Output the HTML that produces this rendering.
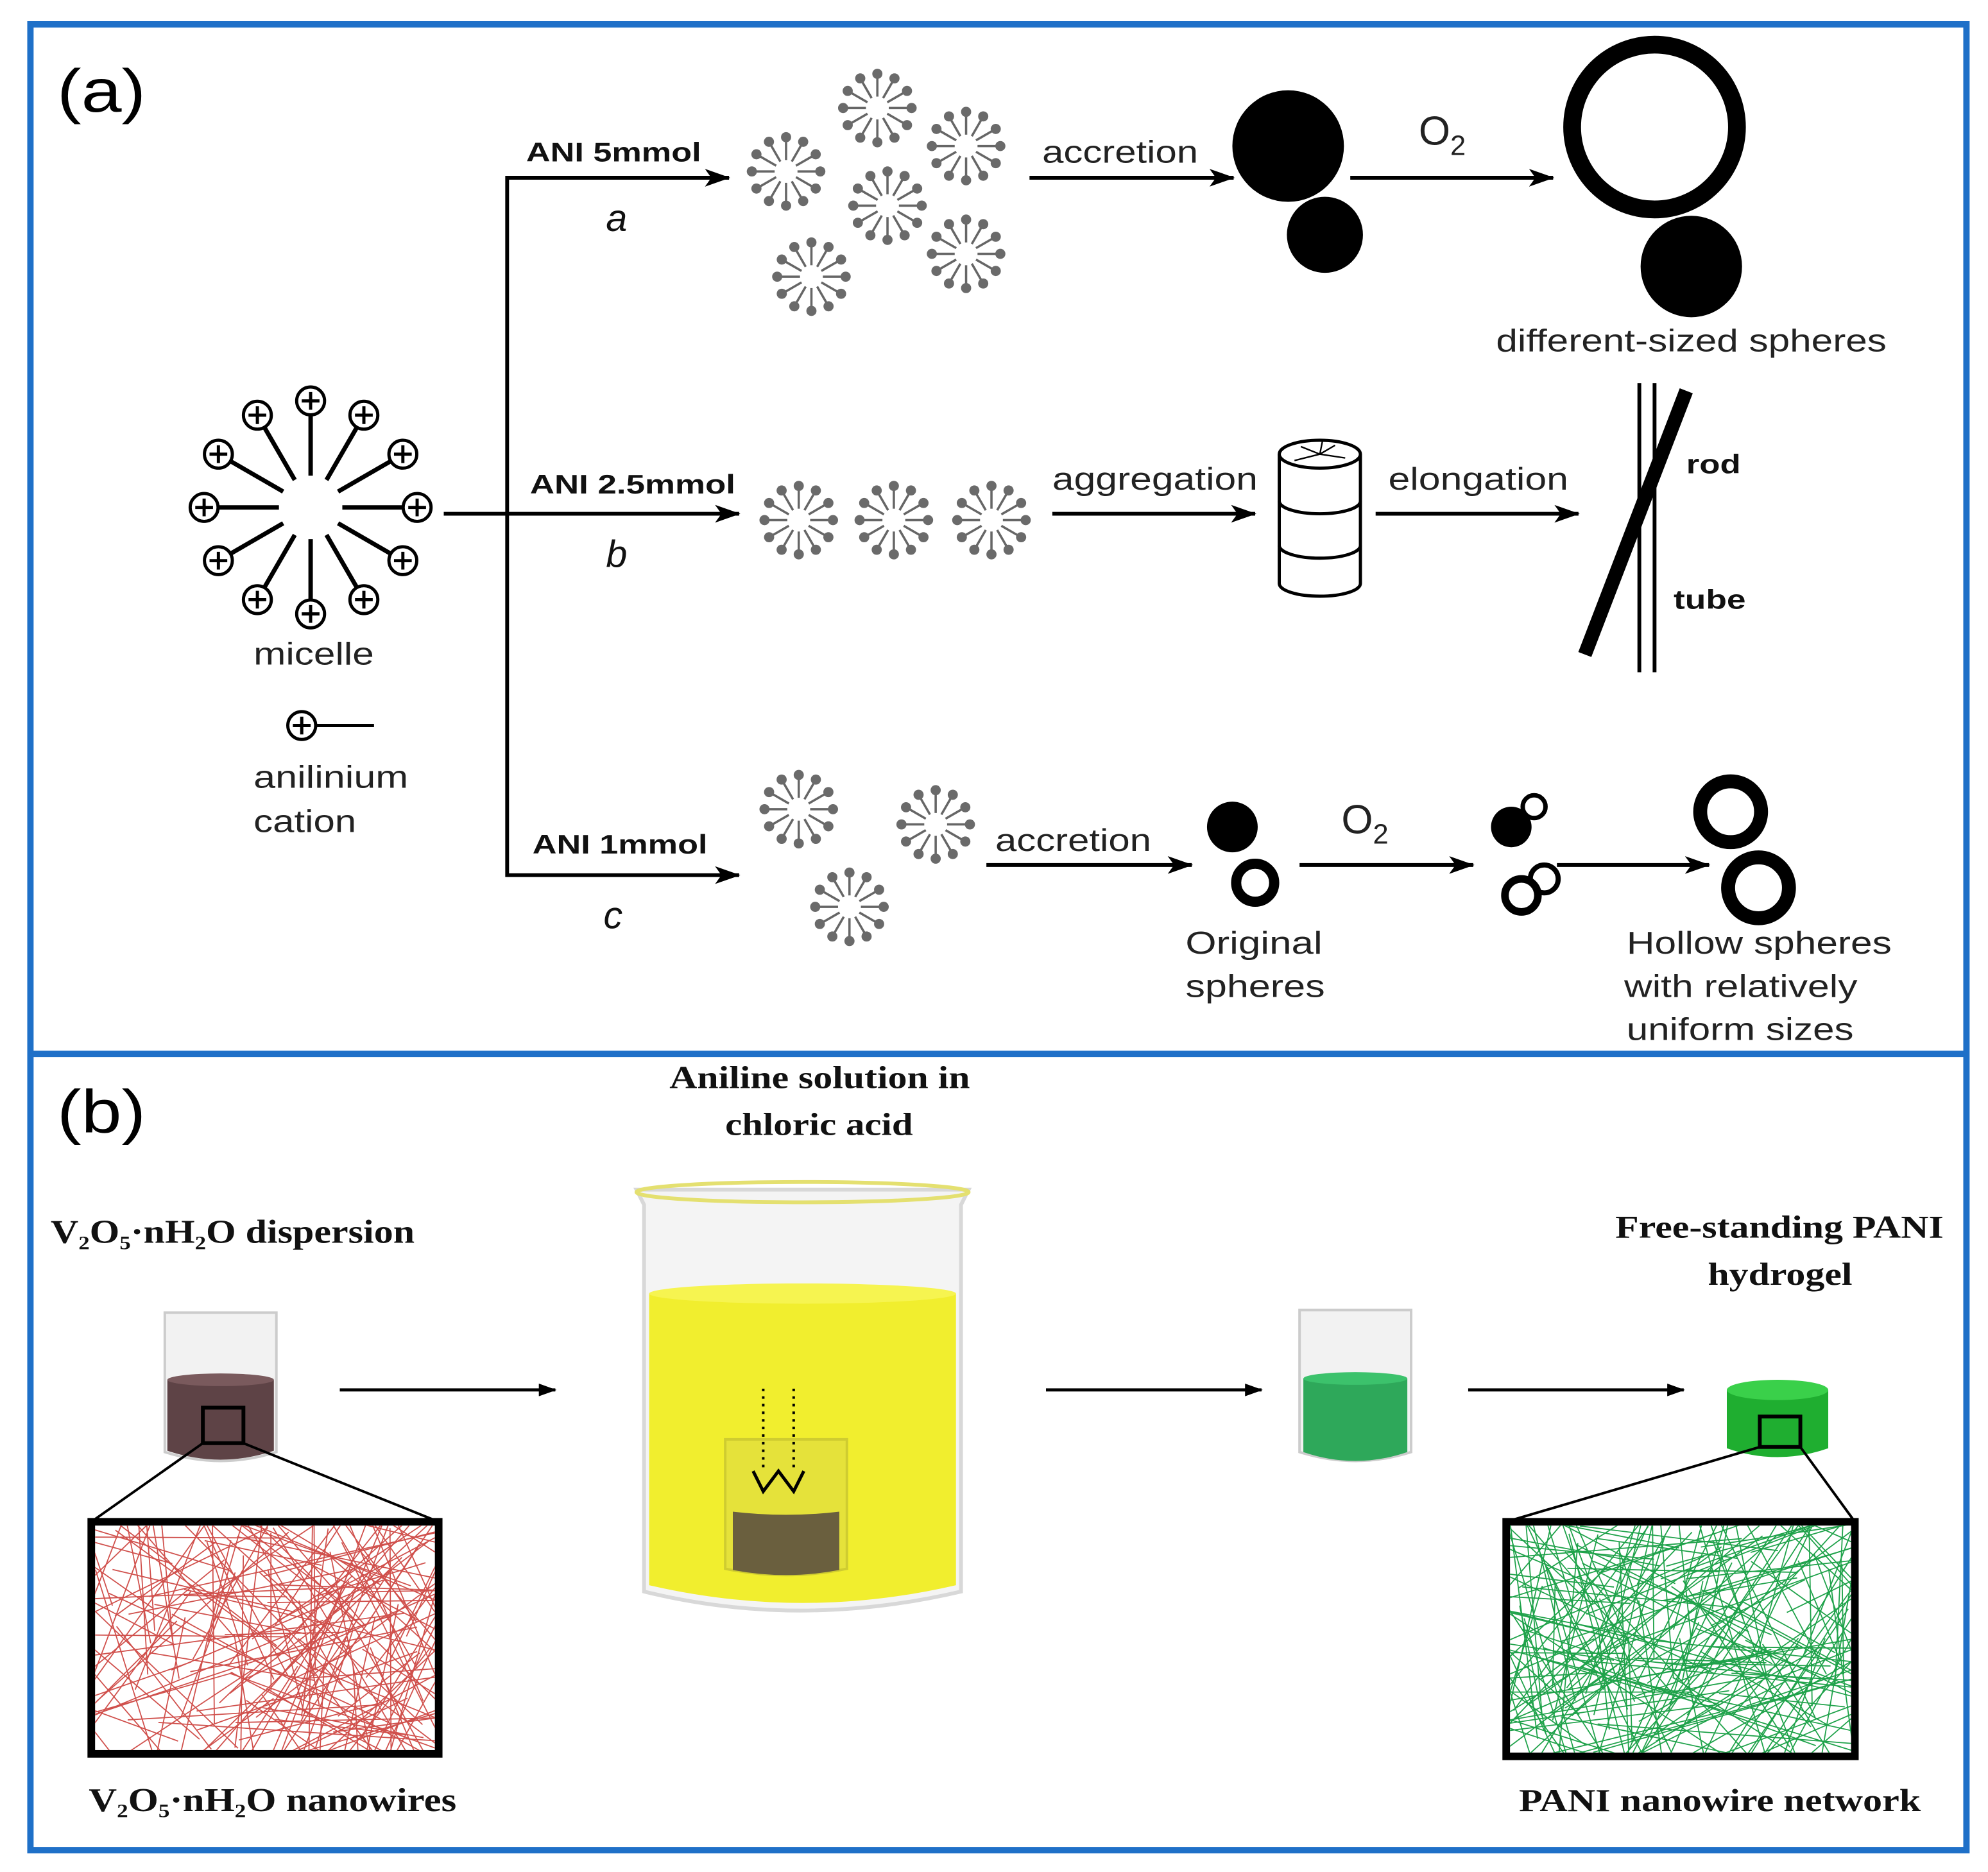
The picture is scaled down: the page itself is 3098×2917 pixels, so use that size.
<!DOCTYPE html>
<html><head><meta charset="utf-8"><style>
html,body{margin:0;padding:0;background:#fff}
svg{display:block}
.s{font-family:"Liberation Sans",sans-serif}
.r{font-family:"Liberation Serif",serif;font-weight:bold}
</style></head><body>
<svg id="sv" width="3098" height="2917" viewBox="0 0 1568 1476" xmlns="http://www.w3.org/2000/svg">
<defs>
<marker id="ah2" markerWidth="20" markerHeight="14" refX="19" refY="7" orient="auto" markerUnits="userSpaceOnUse"><path d="M0,0 L20,7 L0,14 L5,7 Z" fill="#000"/></marker>
<marker id="ah3" markerWidth="14" markerHeight="10" refX="13" refY="5" orient="auto" markerUnits="userSpaceOnUse"><path d="M0,0 L14,5 L0,10 Z" fill="#000"/></marker>
<clipPath id="c1"><rect x="75" y="1203" width="268" height="177"/></clipPath>
<clipPath id="c2"><rect x="1191" y="1203" width="269" height="179"/></clipPath>
</defs>
<rect x="0" y="0" width="1568" height="1476" fill="#fff"/>
<rect x="24" y="19" width="1527" height="1440" fill="none" stroke="#1f70c8" stroke-width="5"/>
<line x1="24" y1="831" x2="1551" y2="831" stroke="#1f70c8" stroke-width="5"/>

<text x="45" y="88" class="s" font-size="48" textLength="70" lengthAdjust="spacingAndGlyphs">(a)</text>
<text x="45" y="893" class="s" font-size="48" textLength="70" lengthAdjust="spacingAndGlyphs">(b)</text>

<g id="micelle"></g>
<g id="smalls"></g>

<g class="s" font-size="25" fill="#222" lengthAdjust="spacingAndGlyphs">
<text x="200" y="524" textLength="95" lengthAdjust="spacingAndGlyphs">micelle</text>
<text x="200" y="621" textLength="122" lengthAdjust="spacingAndGlyphs">anilinium</text>
<text x="200" y="656" textLength="81" lengthAdjust="spacingAndGlyphs">cation</text>
</g>
<circle cx="238" cy="572" r="11" fill="none" stroke="#000" stroke-width="2.5"/>
<path d="M231,572h14M238,565v14M249,572h46" stroke="#000" stroke-width="2.5"/>

<g stroke="#000" stroke-width="3" fill="none">
<line x1="350" y1="405" x2="583" y2="405" marker-end="url(#ah2)"/>
<polyline points="575,140 400,140 400,690 583,690" marker-end="url(#ah2)"/>
<line x1="400" y1="140" x2="575" y2="140" marker-end="url(#ah2)"/>
<line x1="812" y1="140" x2="973" y2="140" marker-end="url(#ah2)"/>
<line x1="1065" y1="140" x2="1225" y2="140" marker-end="url(#ah2)"/>
<line x1="830" y1="405" x2="990" y2="405" marker-end="url(#ah2)"/>
<line x1="1085" y1="405" x2="1245" y2="405" marker-end="url(#ah2)"/>
<line x1="778" y1="682" x2="940" y2="682" marker-end="url(#ah2)"/>
<line x1="1025" y1="682" x2="1162" y2="682" marker-end="url(#ah2)"/>
<line x1="1228" y1="682" x2="1348" y2="682" marker-end="url(#ah2)"/>
</g>

<g class="s" font-weight="bold" font-size="21" fill="#111">
<text x="415" y="127" textLength="138" lengthAdjust="spacingAndGlyphs">ANI 5mmol</text>
<text x="418" y="389" textLength="162" lengthAdjust="spacingAndGlyphs">ANI 2.5mmol</text>
<text x="420" y="673" textLength="138" lengthAdjust="spacingAndGlyphs">ANI 1mmol</text>
</g>
<g class="s" font-style="italic" font-size="30" fill="#111">
<text x="478" y="182">a</text><text x="478" y="447">b</text><text x="476" y="732">c</text>
</g>
<g class="s" font-size="25" fill="#222">
<text x="822" y="128" textLength="123" lengthAdjust="spacingAndGlyphs">accretion</text>
<text x="830" y="386" textLength="162" lengthAdjust="spacingAndGlyphs">aggregation</text>
<text x="1095" y="386" textLength="142" lengthAdjust="spacingAndGlyphs">elongation</text>
<text x="785" y="671" textLength="123" lengthAdjust="spacingAndGlyphs">accretion</text>
<text x="1180" y="277" textLength="308" lengthAdjust="spacingAndGlyphs">different-sized spheres</text>
<text x="935" y="752" textLength="108" lengthAdjust="spacingAndGlyphs">Original</text><text x="935" y="786" textLength="110" lengthAdjust="spacingAndGlyphs">spheres</text>
<text x="1283" y="752" textLength="209" lengthAdjust="spacingAndGlyphs">Hollow spheres</text><text x="1281" y="786" textLength="184" lengthAdjust="spacingAndGlyphs">with relatively</text><text x="1283" y="820" textLength="179" lengthAdjust="spacingAndGlyphs">uniform sizes</text>
<text x="1119" y="114" font-size="32">O<tspan font-size="22" dy="8">2</tspan></text>
<text x="1058" y="657" font-size="32">O<tspan font-size="22" dy="8">2</tspan></text>
</g>
<g class="s" font-weight="bold" font-size="21" fill="#111">
<text x="1330" y="373" textLength="43" lengthAdjust="spacingAndGlyphs">rod</text><text x="1320" y="480" textLength="57" lengthAdjust="spacingAndGlyphs">tube</text>
</g>

<circle cx="1016" cy="115" r="44" fill="#000"/>
<circle cx="1045" cy="185" r="30" fill="#000"/>
<circle cx="1305" cy="100" r="65" fill="none" stroke="#000" stroke-width="14"/>
<circle cx="1334" cy="210" r="40" fill="#000"/>

<g stroke="#000" stroke-width="2.5" fill="#fff">
<path d="M1009,358 v102 a32,10 0 0 0 64,0 v-102"/>
<ellipse cx="1041" cy="358" rx="32" ry="11"/>
<path d="M1009,395 a32,10 0 0 0 64,0 M1009,430 a32,10 0 0 0 64,0" fill="none"/>
<path d="M1041,358 l-15,-6 M1041,358 l12,-7 M1041,358 l20,3 M1041,358 l-20,5 M1041,358 l2,-10" fill="none" stroke-width="1.2"/>
</g>
<line x1="1293" y1="302" x2="1293" y2="530" stroke="#000" stroke-width="3"/>
<line x1="1305" y1="302" x2="1305" y2="530" stroke="#000" stroke-width="3"/>
<line x1="1330" y1="308" x2="1250" y2="516" stroke="#000" stroke-width="11"/>

<circle cx="972" cy="652" r="20" fill="#000"/>
<circle cx="990" cy="696" r="15" fill="none" stroke="#000" stroke-width="8"/>
<circle cx="1192" cy="652" r="16" fill="#000"/>
<circle cx="1210" cy="636" r="9" fill="#fff" stroke="#000" stroke-width="3.5"/>
<circle cx="1218" cy="693" r="11" fill="#fff" stroke="#000" stroke-width="4"/>
<circle cx="1200" cy="706" r="13" fill="#fff" stroke="#000" stroke-width="6"/>
<circle cx="1365" cy="640" r="24" fill="none" stroke="#000" stroke-width="11"/>
<circle cx="1387" cy="700" r="24" fill="none" stroke="#000" stroke-width="11"/>

<g class="r" font-size="25" fill="#111">
<text x="528" y="858" textLength="237" lengthAdjust="spacingAndGlyphs">Aniline solution in</text>
<text x="572" y="895" textLength="148" lengthAdjust="spacingAndGlyphs">chloric acid</text>
<text x="1274" y="976" textLength="259" lengthAdjust="spacingAndGlyphs">Free-standing PANI</text>
<text x="1347" y="1013" textLength="114" lengthAdjust="spacingAndGlyphs">hydrogel</text>
<text x="1198" y="1428" textLength="317" lengthAdjust="spacingAndGlyphs">PANI nanowire network</text>
</g>
<g class="r" font-size="26" fill="#111">
<text x="40" y="980" textLength="287" lengthAdjust="spacingAndGlyphs">V<tspan font-size="15" dy="5">2</tspan><tspan dy="-5">O</tspan><tspan font-size="15" dy="5">5</tspan><tspan dy="-5">·nH</tspan><tspan font-size="15" dy="5">2</tspan><tspan dy="-5">O dispersion</tspan></text>
<text x="70" y="1428" textLength="290" lengthAdjust="spacingAndGlyphs">V<tspan font-size="15" dy="5">2</tspan><tspan dy="-5">O</tspan><tspan font-size="15" dy="5">5</tspan><tspan dy="-5">·nH</tspan><tspan font-size="15" dy="5">2</tspan><tspan dy="-5">O nanowires</tspan></text>
<text x="650" y="1088" font-size="21" textLength="103" lengthAdjust="spacingAndGlyphs">Diffusion</text>
</g>

<path d="M130,1035 h88 v110 q-44,14 -88,0 Z" fill="#f2f2f2" stroke="#ccc" stroke-width="2"/>
<path d="M132,1088 q42,8 84,0 v56 q-42,14 -84,0 Z" fill="#5e4346"/>
<ellipse cx="174" cy="1088" rx="42" ry="5" fill="#7a5a5d"/>
<rect x="160" y="1110" width="32" height="28" fill="none" stroke="#000" stroke-width="3"/>
<path d="M160,1138 L72,1200 M192,1138 L346,1200" stroke="#000" stroke-width="2"/>
<rect x="72" y="1200" width="274" height="183" fill="#fff" stroke="#000" stroke-width="6"/>
<g id="red" clip-path="url(#c1)"></g>

<g stroke="#000" stroke-width="2.5">
<line x1="268" y1="1096" x2="438" y2="1096" marker-end="url(#ah3)"/>
<line x1="825" y1="1096" x2="995" y2="1096" marker-end="url(#ah3)"/>
<line x1="1158" y1="1096" x2="1328" y2="1096" marker-end="url(#ah3)"/>
</g>

<path d="M502,938 h262 l-6,12 v305 q-128,30 -250,0 v-305 Z" fill="#f4f4f4" stroke="#d8d8d8" stroke-width="3"/>
<ellipse cx="633" cy="940" rx="131" ry="8" fill="none" stroke="#e4e070" stroke-width="3"/>
<path d="M512,1020 q121,-10 242,0 v230 q-121,28 -242,0 Z" fill="#f1ee2e"/>
<ellipse cx="633" cy="1020" rx="121" ry="8" fill="#f6f450"/>
<path d="M572,1135 h96 v102 q-48,10 -96,0 Z" fill="#e5e23a" stroke="#cfcc30" stroke-width="2"/>
<path d="M578,1192 q42,5 84,0 v46 q-42,8 -84,0 Z" fill="#6a5f3e"/>
<g stroke="#000" stroke-width="2" stroke-dasharray="2,4"><line x1="602" y1="1095" x2="602" y2="1160"/><line x1="626" y1="1095" x2="626" y2="1160"/></g>
<path d="M594,1160 l8,16 l12,-16 l12,16 l8,-16" stroke="#000" stroke-width="2.5" fill="none"/>

<path d="M1025,1033 h88 v112 q-44,14 -88,0 Z" fill="#f2f2f2" stroke="#ccc" stroke-width="2"/>
<path d="M1028,1087 q41,8 82,0 v58 q-41,14 -82,0 Z" fill="#2ea85a"/>
<ellipse cx="1069" cy="1087" rx="41" ry="5" fill="#3cc26c"/>

<path d="M1362,1096 v46 q40,14 80,0 v-46 Z" fill="#1fae30"/>
<ellipse cx="1402" cy="1096" rx="40" ry="8" fill="#3ad04a"/>
<rect x="1388" y="1117" width="32" height="24" fill="none" stroke="#000" stroke-width="3"/>
<path d="M1388,1141 L1188,1200 M1420,1141 L1463,1200" stroke="#000" stroke-width="2"/>
<rect x="1188" y="1200" width="275" height="185" fill="#fff" stroke="#000" stroke-width="6"/>
<g id="grn" clip-path="url(#c2)"></g>
</svg>
<script>
var NS="http://www.w3.org/2000/svg";
function el(p,t,a){var e=document.createElementNS(NS,t);for(var k in a)e.setAttribute(k,a[k]);p.appendChild(e);return e;}
var m=document.getElementById("micelle");
for(var i=0;i<12;i++){var a=i*Math.PI/6;var c=Math.cos(a),s=Math.sin(a);
el(m,"line",{x1:245+25*c,y1:400+25*s,x2:245+72*c,y2:400+72*s,stroke:"#000","stroke-width":3.5});
var x=245+84*c,y=400+84*s;
el(m,"circle",{cx:x,cy:y,r:11,fill:"#fff",stroke:"#000","stroke-width":2.5});
el(m,"path",{d:"M"+(x-7)+","+y+"h14M"+x+","+(y-7)+"v14",stroke:"#000","stroke-width":2.5});}
var sm=document.getElementById("smalls");
[[620,135],[692,85],[762,115],[700,162],[762,200],[640,218],[630,410],[705,410],[782,410],[630,638],[738,650],[670,715]].forEach(function(p){
for(var i=0;i<12;i++){var a=i*Math.PI/6;var c=Math.cos(a),s=Math.sin(a);
el(sm,"line",{x1:p[0]+9*c,y1:p[1]+9*s,x2:p[0]+26*c,y2:p[1]+26*s,stroke:"#666","stroke-width":1.8});
el(sm,"circle",{cx:p[0]+27*c,cy:p[1]+27*s,r:4,fill:"#6a6a6a"});}});
var seed=7;function rnd(){seed=(seed*16807)%2147483647;return seed/2147483647;}
function wires(id,x0,y0,w,h,col,n){var g=document.getElementById(id);
for(var i=0;i<n;i++){var ax=x0+rnd()*w,ay=y0+rnd()*h,ang=rnd()*Math.PI,L=80+rnd()*180;
el(g,"line",{x1:ax-L*Math.cos(ang)/2,y1:ay-L*Math.sin(ang)/2,x2:ax+L*Math.cos(ang)/2,y2:ay+L*Math.sin(ang)/2,stroke:col,"stroke-width":0.9});}}
wires("red",75,1203,268,177,"#d0504c",170);
wires("grn",1191,1203,269,179,"#1fa24a",200);
</script>
</body></html>
